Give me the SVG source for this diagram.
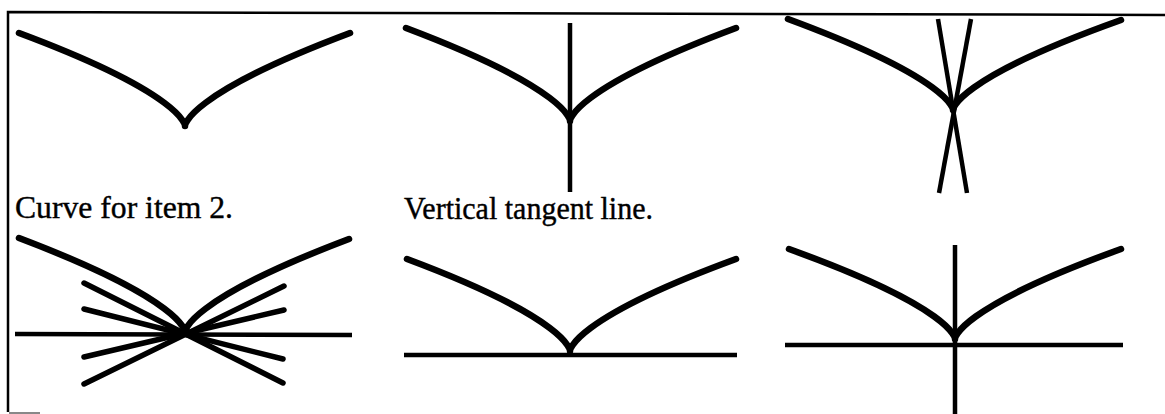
<svg xmlns="http://www.w3.org/2000/svg" width="1165" height="414" viewBox="0 0 1165 414">
<style>
.crv{fill:none;stroke:#000;stroke-width:6.5;stroke-linecap:round;stroke-linejoin:round}
.ln{fill:none;stroke:#000;stroke-width:4.5;stroke-linecap:butt}
.tl{fill:none;stroke:#000;stroke-width:5.5;stroke-linecap:round}
.frame{fill:none;stroke:#000;stroke-width:2.5}
.lbl{font-family:"Liberation Serif","Times New Roman",serif;fill:#000;stroke:#000;stroke-width:0.4}
</style>
<rect width="1165" height="414" fill="#fff"/>
<g id="frame">
<path class="frame" d="M8,412 L8,12 L1165,15"/>
<line x1="9" y1="413" x2="40" y2="413" stroke="#888" stroke-width="2"/>
</g>
<g id="panel1">
<path class="crv" d="M19,33 C185,95 185,126 185,126 C185,126 185,95 350,33"/>
</g>
<g id="panel2">
<path class="crv" d="M406,28 C570,90 570,121 570,121 C570,121 570,90 736,28"/>
<line class="ln" x1="570" y1="23" x2="570" y2="192"/>
</g>
<g id="panel3">
<path class="crv" d="M788,19 C953,80 953,110 953,110 C953,110 953,80 1121,20"/>
<line class="ln" x1="938" y1="19" x2="967" y2="193"/>
<line class="ln" x1="971" y1="19" x2="939" y2="193"/>
</g>
<g id="label1">
<text class="lbl" x="15" y="218" font-size="32" textLength="218" lengthAdjust="spacingAndGlyphs">Curve for item 2.</text>
</g>
<g id="label2">
<text class="lbl" x="404" y="219" font-size="31" textLength="249" lengthAdjust="spacingAndGlyphs">Vertical tangent line.</text>
</g>
<g id="panel4">
<path class="crv" d="M19,238 C185,301 185,332 185,332 C185,332 185,301 349,239"/>
<line class="ln" x1="15" y1="334" x2="352" y2="335"/>
<line class="tl" x1="84" y1="283" x2="283" y2="383"/>
<line class="tl" x1="84" y1="309" x2="283" y2="359"/>
<line class="tl" x1="84" y1="357" x2="284" y2="310"/>
<line class="tl" x1="84" y1="384" x2="284" y2="286"/>
</g>
<g id="panel5">
<path class="crv" d="M407,259 C570,320 570,351 570,351 C570,351 570,320 736,259"/>
<line class="ln" x1="404" y1="355" x2="737" y2="355"/>
</g>
<g id="panel6">
<path class="crv" d="M789,249 C955,309 955,339 955,339 C955,339 955,309 1121,249"/>
<line class="ln" x1="785" y1="345" x2="1123" y2="345"/>
<line class="ln" x1="955" y1="245" x2="955" y2="414"/>
</g>
</svg>
